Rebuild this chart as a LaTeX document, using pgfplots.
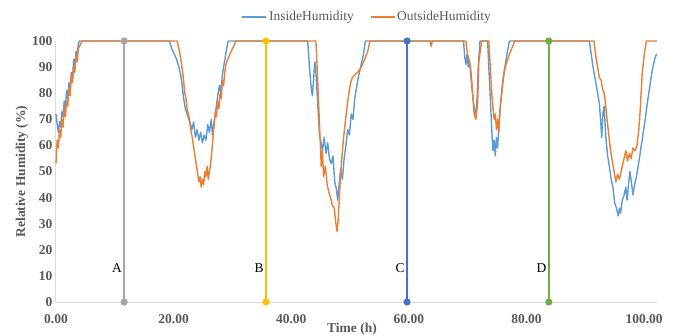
\documentclass[border=0pt]{standalone}
\usepackage{pgfplots}
\pgfplotsset{compat=1.18}
\usepackage{fontspec}
\setmainfont{Liberation Serif}
\definecolor{cin}{HTML}{5B9BD5}
\definecolor{cout}{HTML}{ED7D31}
\definecolor{cA}{HTML}{A5A5A5}
\definecolor{cB}{HTML}{FFC000}
\definecolor{cC}{HTML}{4472C4}
\definecolor{cD}{HTML}{70AD47}
\definecolor{txt}{HTML}{595959}
\definecolor{axl}{HTML}{D9D9D9}
\begin{document}
\begin{tikzpicture}
\begin{axis}[
  scale only axis, width=601pt, height=261pt,
  xmin=0, xmax=102.2, ymin=0, ymax=100,
  clip=false,
  axis lines=left,
  axis line style={-, draw=axl, line width=1pt},
  major tick length=0pt,
  xtick={0,20,40,60,80,100},
  ytick={0,10,...,100},
  xticklabel style={/pgf/number format/fixed, /pgf/number format/precision=2, /pgf/number format/fixed zerofill, yshift=-9pt},
  /pgf/number format/assume math mode=true,
  tick label style={font=\fontsize{13.5}{16}\selectfont\bfseries, text=txt},
  xlabel={Time (h)}, ylabel={Relative Humidity (\%)},
  label style={font=\fontsize{13.5}{16}\selectfont\bfseries, text=txt},
  xlabel style={at={(axis description cs:0.4925,-0.1034)}, anchor=center},
  ylabel style={at={(axis description cs:-0.0566,0.5)}, anchor=center, rotate=0},
  legend columns=2,
  legend style={draw=none, fill=none, at={(axis description cs:0.518,1.092)}, anchor=center,
    font=\fontsize{13.5}{16}\selectfont, text=txt,
    /tikz/every even column/.append style={column sep=14pt}},
  legend image code/.code={\draw[#1] (0pt,0pt) -- (24pt,0pt);},
]
\addplot[cin, line width=1.4pt, line join=round] coordinates {
(0.0,72)(0.2,68)(0.4,65)(0.6,69)(0.8,67)(1.0,73)(1.2,71)(1.4,77)(1.6,74)(1.8,81)(2.0,78)(2.2,84)(2.4,81)(2.6,88)(2.8,85)(3.0,93)(3.2,90)(3.4,96)(3.6,94)(3.8,99)(4.0,100)
(19.3,100)(19.7,97)(20.1,95)(20.5,93)(20.9,90)(21.2,87)(21.4,84)(21.7,78)(22.0,74)(22.3,72)(22.6,70)(22.9,68)(23.1,66)(23.4,69)(23.7,63)(24.0,66)(24.3,62)(24.6,65)(24.9,61)(25.2,64)(25.5,62)(25.8,68)(26.1,65)(26.4,70)(26.6,64)(26.9,69)(27.2,74)(27.5,79)(27.8,83)(28.0,80)(28.3,87)(28.5,90)(28.8,94)(29.0,97)(29.3,100)
(42.8,100)(43.1,90)(43.4,82)(43.6,79)(43.8,85)(44.0,92)(44.2,88)(44.5,76)(44.8,64)(45.0,62)(45.3,58)(45.6,63)(45.9,57)(46.2,61)(46.5,55)(46.8,53)(47.1,56)(47.4,46)(47.7,43)(47.9,39)(48.1,44)(48.4,51)(48.7,47)(49.0,55)(49.3,60)(49.6,66)(49.9,64)(50.2,72)(50.5,70)(50.8,78)(51.1,82)(51.4,86)(51.7,89)(52.0,92)(52.3,95)(52.6,100)
(69.3,100)(69.5,94)(69.7,91)(69.9,95)(70.1,90)(70.3,93)(70.6,85)(70.9,78)(71.2,73)(71.4,72)(71.6,78)(71.8,90)(72.1,100)
(73.4,100)(73.6,90)(73.9,76)(74.1,66)(74.3,58)(74.5,62)(74.7,56)(74.9,63)(75.1,59)(75.3,67)(75.5,73)(75.8,81)(76.1,87)(76.4,91)(76.7,95)(77.1,100)
(90.7,100)(91.0,95)(91.4,89)(91.8,84)(92.1,80)(92.4,76)(92.6,70)(92.8,63)(93.0,72)(93.2,75)(93.5,63)(93.8,56)(94.1,52)(94.4,47)(94.7,44)(95.0,38)(95.3,36)(95.6,33)(95.8,36)(96.0,34)(96.3,39)(96.6,41)(96.9,44)(97.1,39)(97.4,46)(97.6,50)(97.9,45)(98.1,41)(98.4,45)(98.7,48)(99.0,52)(99.4,58)(99.8,64)(100.2,70)(100.6,77)(101.0,83)(101.4,89)(101.8,93)(102.1,95)
};
\addlegendentry{InsideHumidity}
\addplot[cout, line width=1.4pt, line join=round] coordinates {
(0.0,53)(0.2,62)(0.4,59)(0.6,66)(0.8,63)(1.0,70)(1.2,67)(1.4,74)(1.6,71)(1.8,77)(2.0,75)(2.2,82)(2.4,79)(2.6,87)(2.8,84)(3.0,90)(3.2,88)(3.4,94)(3.6,92)(3.8,97)(4.2,99)(4.5,100)
(20.6,100)(21.0,96)(21.3,92)(21.6,87)(21.9,80)(22.1,78)(22.3,74)(22.5,72)(22.7,70)(22.9,66)(23.1,64)(23.3,61)(23.5,58)(23.7,55)(23.9,52)(24.1,49)(24.3,46)(24.5,48)(24.7,44)(24.9,47)(25.1,45)(25.3,50)(25.5,48)(25.7,52)(25.9,47)(26.1,50)(26.3,53)(26.5,58)(26.7,63)(26.9,68)(27.1,73)(27.3,71)(27.5,77)(27.7,74)(27.9,80)(28.1,78)(28.3,85)(28.5,83)(28.7,88)(28.9,91)(29.2,93)(29.6,95)(30.0,97)(30.6,100)
(44.2,100)(44.5,85)(44.9,63)(45.1,52)(45.3,58)(45.5,48)(45.8,52)(46.1,45)(46.4,42)(46.7,40)(47.0,37)(47.3,36)(47.6,30)(47.8,27)(48.0,32)(48.3,45)(48.6,55)(48.9,63)(49.2,69)(49.5,75)(49.8,80)(50.1,84)(50.4,86)(50.8,87)(51.3,88)(51.9,90)(52.5,93)(53.0,96)(53.4,100)
(63.6,100)(63.8,98)(64.0,100)
(69.7,100)(69.9,96)(70.2,93)(70.5,90)(70.8,82)(71.1,72)(71.4,70)(71.7,76)(71.9,92)(72.2,97)(72.4,100)
(73.6,100)(73.9,88)(74.1,80)(74.3,75)(74.5,70)(74.7,72)(74.9,66)(75.1,70)(75.3,65)(75.5,74)(75.8,80)(76.1,86)(76.4,90)(76.8,93)(77.3,96)(78.0,100)
(91.5,100)(91.8,94)(92.1,90)(92.4,86)(92.7,85)(92.9,82)(93.2,80)(93.4,77)(93.7,70)(94.0,64)(94.3,58)(94.6,54)(94.9,50)(95.2,46)(95.5,49)(95.8,47)(96.1,50)(96.4,53)(96.7,56)(96.9,58)(97.2,54)(97.5,57)(97.8,55)(98.1,59)(98.5,58)(98.8,60)(99.1,66)(99.3,72)(99.5,80)(99.7,88)(99.9,92)(100.1,96)(100.4,100)(102.2,100)
};
\addlegendentry{OutsideHumidity}
\addplot[cA, line width=1.5pt, mark=*, mark size=2.8pt, forget plot] coordinates {(11.6,0)(11.6,100)};
\addplot[cB, line width=1.5pt, mark=*, mark size=2.8pt, forget plot] coordinates {(35.7,0)(35.7,100)};
\addplot[cC, line width=1.5pt, mark=*, mark size=2.8pt, forget plot] coordinates {(59.7,0)(59.7,100)};
\addplot[cD, line width=1.5pt, mark=*, mark size=2.8pt, forget plot] coordinates {(83.8,0)(83.8,100)};
\node[anchor=east, font=\fontsize{13.5}{16}\selectfont, inner sep=1pt] at (axis cs:11.4,13) {A};
\node[anchor=east, font=\fontsize{13.5}{16}\selectfont, inner sep=1pt] at (axis cs:35.5,13) {B};
\node[anchor=east, font=\fontsize{13.5}{16}\selectfont, inner sep=1pt] at (axis cs:59.5,13) {C};
\node[anchor=east, font=\fontsize{13.5}{16}\selectfont, inner sep=1pt] at (axis cs:83.6,13) {D};
\end{axis}
\pgfresetboundingbox
\path[use as bounding box] (-56pt,-33pt) rectangle (620pt,302pt);
\end{tikzpicture}
\end{document}
